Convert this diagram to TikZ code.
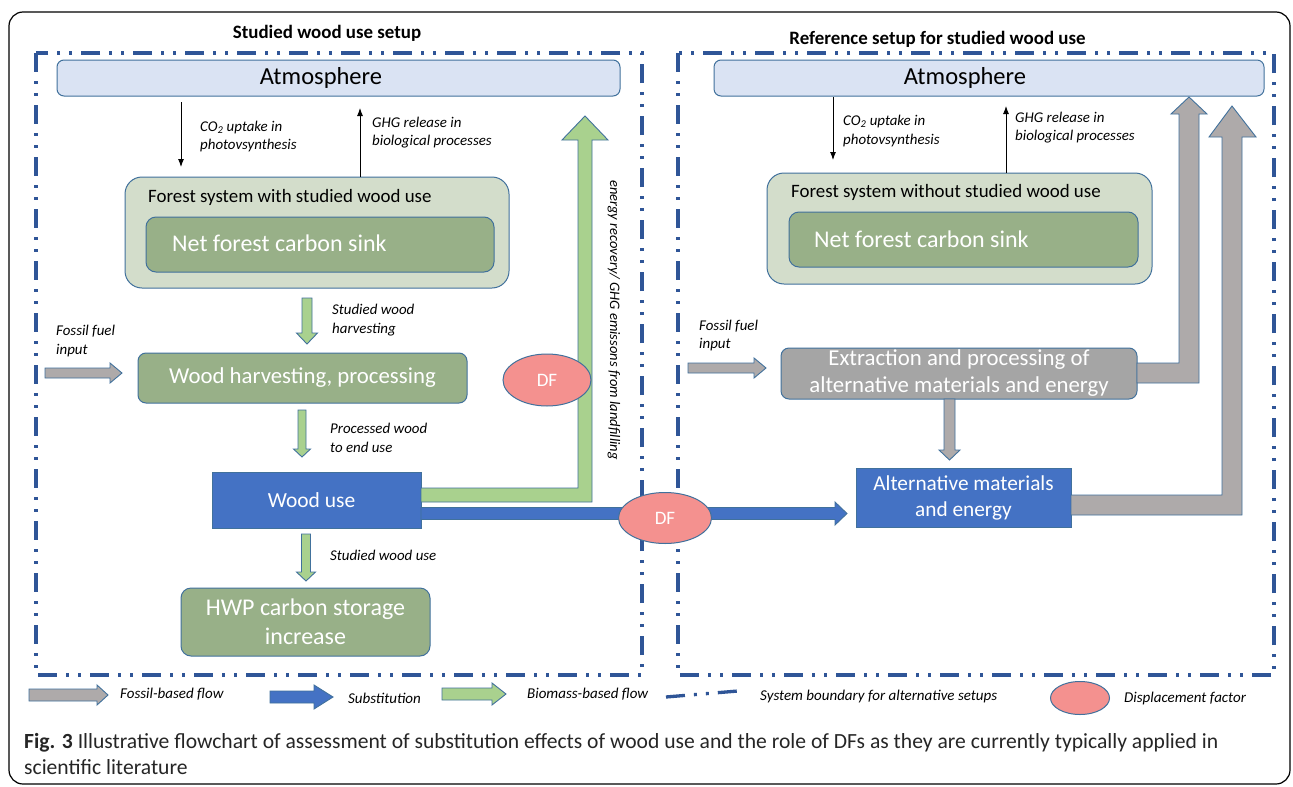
\documentclass[tikz,border=0pt]{standalone}
\usepackage{fontspec}
\setmainfont{Carlito}
\usetikzlibrary{arrows.meta,shapes.geometric}
\definecolor{bnd}{HTML}{2F5597}
\definecolor{edgeblue}{HTML}{41719C}
\definecolor{atmo}{HTML}{DAE3F3}
\definecolor{forestbg}{HTML}{D3DDCB}
\definecolor{sage}{HTML}{98B088}
\definecolor{woodblue}{HTML}{4472C4}
\definecolor{boxgray}{HTML}{A5A5A5}
\definecolor{arrgray}{HTML}{AEAAAA}
\definecolor{biogreen}{HTML}{A9D18E}
\definecolor{dfpink}{HTML}{F4918F}
\newcommand{\fsz}[2]{\fontsize{#1pt}{#2pt}\selectfont}
% block arrow pointing down: x, ytop, ytip, half shaft, half head, head length, style
\newcommand{\blkdown}[7]{\draw[#7] ({#1-#4},#2) -- ({#1+#4},#2) -- ({#1+#4},{#3-#6}) -- ({#1+#5},{#3-#6}) -- (#1,#3) -- ({#1-#5},{#3-#6}) -- ({#1-#4},{#3-#6}) -- cycle;}
% block arrow pointing right: y, xstart, xtip, half shaft, half head, head length, style
\newcommand{\blkright}[7]{\draw[#7] (#2,{#1-#4}) -- ({#3-#6},{#1-#4}) -- ({#3-#6},{#1-#5}) -- (#3,#1) -- ({#3-#6},{#1+#5}) -- ({#3-#6},{#1+#4}) -- (#2,{#1+#4}) -- cycle;}
\begin{document}
\begin{tikzpicture}[x=1pt,y=-1pt,
  boundary/.style={draw=bnd, line width=3.3pt, dash pattern=on 19pt off 9pt on 3pt off 9pt on 3pt off 9pt},
  box/.style={draw=edgeblue, line width=1pt, inner sep=0pt, text=white},
  atmbox/.style={box, fill=atmo, rounded corners=7pt},
  dfnode/.style={ellipse, draw=edgeblue, line width=1pt, fill=dfpink, inner sep=0pt, text=white, font=\fsz{19}{22}},
  lbl/.style={font=\fsz{14.9}{18.5}\itshape, align=left, anchor=west, inner sep=0pt},
  leg/.style={font=\fsz{15}{18}\itshape, anchor=west, inner sep=0pt},
  thinarr/.style={draw=black, line width=0.9pt, -{Latex[length=8pt,width=6pt]}},
  flowgray/.style={fill=arrgray, draw=edgeblue, line width=0.9pt},
  flowgreen/.style={fill=biogreen, draw=edgeblue, line width=0.9pt},
  flowblue/.style={fill=woodblue, draw=edgeblue, line width=0.9pt}]
\useasboundingbox (0,0) rectangle (1293,787);
\fill[white] (0,0) rectangle (1293,787);
% outer frame
\draw[black, line width=1.2pt, rounded corners=14pt] (9,12) rectangle (1290,784);
% titles
\node[font=\bfseries\fsz{18.9}{22}] (titleL) at (327,33) {Studied wood use setup};
\node[font=\bfseries\fsz{18.9}{22}] (titleR) at (937.5,39) {Reference setup for studied wood use};
% system boundaries
\draw[boundary] (36,53) rectangle (642,675);
\draw[boundary] (678,53) rectangle (1274,675);

% ---------- left setup ----------
\node[atmbox, minimum width=563pt, minimum height=36pt] (atmL) at (338.5,78) {};
\node[font=\fsz{24.5}{28}] (atmLt) at (321,78) {Atmosphere};
\node[box, fill=forestbg, rounded corners=17pt, minimum width=384pt, minimum height=111pt] (forL) at (317,232.5) {};
\node[font=\fsz{18.9}{22}, anchor=west, inner sep=0pt] (forLt) at (148,197) {Forest system with studied wood use};
\node[box, fill=sage, rounded corners=10pt, minimum width=348pt, minimum height=55pt] (sinkL) at (320,244.5) {};
\node[font=\fsz{24}{28}, anchor=west, inner sep=0pt, text=white] (sinkLt) at (172,243) {Net forest carbon sink};
\node[box, fill=sage, rounded corners=8pt, minimum width=329pt, minimum height=50pt, font=\fsz{22.8}{27}] (harv) at (302.5,378) {Wood harvesting, processing};
\node[box, fill=woodblue, minimum width=209pt, minimum height=56pt, font=\fsz{21.5}{25}] (wooduse) at (316.5,500) {\hspace*{-10pt}Wood use};
\node[box, fill=sage, rounded corners=10pt, minimum width=249pt, minimum height=68pt, font=\fsz{24}{29}, align=center] (hwp) at (305.5,622) {HWP carbon storage\\increase};

\draw[thinarr] (181,102) -- (181,167);
\draw[thinarr] (360,177) -- (360,108);
\node[lbl] (co2L) at (200,136.5) {CO\textsubscript{2} uptake in\\photovsynthesis};
\node[lbl] (ghgL) at (372,132.5) {GHG release in\\biological processes};

\blkdown{307}{298}{344}{5}{10.5}{11}{flowgreen}
\node[lbl] (harvlbl) at (332,320) {Studied wood\\harvesting};
\blkright{373}{45}{122}{5}{10}{12}{flowgray}
\node[lbl] (fosL) at (56,341) {Fossil fuel\\input};
\blkdown{302}{410}{457}{4}{8.5}{8}{flowgreen}
\node[lbl] (proclbl) at (330,438) {Processed wood\\to end use};
\blkdown{306}{534}{581}{4.5}{9.5}{9}{flowgreen}
\node[lbl] (uselbl) at (330,555) {Studied wood use};

% green L arrow (energy recovery)
\draw[flowgreen] (421,488) -- (578,488) -- (578,140) -- (562,140) -- (585,116) -- (608,140) -- (592,140) -- (592,502) -- (421,502) -- cycle;
\node[font=\fsz{14.5}{17}\itshape, rotate=-90, inner sep=0pt] (erlbl) at (614,320) {energy recovery/ GHG emissons from landfilling};
% substitution arrow
\draw[flowblue] (421,507.5) -- (835,507.5) -- (835,502) -- (847,513.5) -- (835,525) -- (835,519.5) -- (421,519.5) -- cycle;

% ---------- right setup ----------
\node[atmbox, minimum width=550pt, minimum height=36pt] (atmR) at (989,78) {};
\node[font=\fsz{24.5}{28}] (atmRt) at (965,78) {Atmosphere};
\node[box, fill=forestbg, rounded corners=17pt, minimum width=385pt, minimum height=111pt] (forR) at (959.5,228.5) {};
\node[font=\fsz{18.9}{22}, anchor=west, inner sep=0pt] (forRt) at (791,192) {Forest system without studied wood use};
\node[box, fill=sage, rounded corners=10pt, minimum width=349pt, minimum height=55pt] (sinkR) at (963.5,239.5) {};
\node[font=\fsz{24}{28}, anchor=west, inner sep=0pt, text=white] (sinkRt) at (814,239) {Net forest carbon sink};
\node[box, fill=boxgray, rounded corners=8pt, minimum width=356pt, minimum height=51pt, font=\fsz{22.8}{27}, align=center] (extr) at (959,373.5) {Extraction and processing of\\alternative materials and energy};
\node[box, fill=woodblue, minimum width=215pt, minimum height=59pt, font=\fsz{21.3}{26}, align=center] (alt) at (963.5,497.5) {Alternative materials\\and energy};

\draw[thinarr] (833,97) -- (833,160);
\draw[thinarr] (1006,173) -- (1006,106);
\node[lbl] (co2R) at (843,131) {CO\textsubscript{2} uptake in\\photovsynthesis};
\node[lbl] (ghgR) at (1015,127.5) {GHG release in\\biological processes};
\blkright{368}{688}{766}{5}{10}{12}{flowgray}
\node[lbl] (fosR) at (699,335.5) {Fossil fuel\\input};
\blkdown{949.5}{399}{460}{5.5}{10.5}{10}{flowgray}
% gray L arrows to atmosphere
\draw[flowgray] (1137,363) -- (1179,363) -- (1179,114) -- (1171,114) -- (1189,97) -- (1207,114) -- (1199,114) -- (1199,383) -- (1137,383) -- cycle;
\draw[flowgray] (1071,495) -- (1222,495) -- (1222,137) -- (1209,137) -- (1232,106) -- (1256,137) -- (1242,137) -- (1242,515) -- (1071,515) -- cycle;

% displacement factors
\node[dfnode, minimum width=88pt, minimum height=52pt] (dfL) at (547,380) {DF};
\node[dfnode, minimum width=93pt, minimum height=51pt] (dfM) at (665,518) {DF};

% ---------- legend ----------
\blkright{695}{29}{108}{6}{10}{11}{flowgray}
\node[leg] (legfos) at (120,694) {Fossil-based flow};
\blkright{697}{270}{333}{6}{12}{19}{flowblue}
\node[leg] (legsub) at (348,698) {Substitution};
\blkright{694}{442}{506}{6}{11}{14}{flowgreen}
\node[leg] (legbio) at (527,694) {Biomass-based flow};
\coordinate (bndA) at (666,697);
\coordinate (bndB) at (738,691);
\draw[boundary] (bndA) -- (bndB);
\node[leg] (legbnd) at (760,696) {System boundary for alternative setups};
\node[dfnode, minimum width=59pt, minimum height=33pt] (legdf) at (1080,698) {};
\node[leg] (legdft) at (1124,698) {Displacement factor};

% ---------- caption ----------
\node[anchor=base west, inner sep=0pt, font=\fsz{21.6}{26}, text=black!85] (cap1) at (24,748) {\textbf{Fig. 3} Illustrative flowchart of assessment of substitution effects of wood use and the role of DFs as they are currently typically applied in};
\node[anchor=base west, inner sep=0pt, font=\fsz{21.6}{26}, text=black!85] (cap2) at (24,774) {scientific literature};
\end{tikzpicture}
\end{document}
